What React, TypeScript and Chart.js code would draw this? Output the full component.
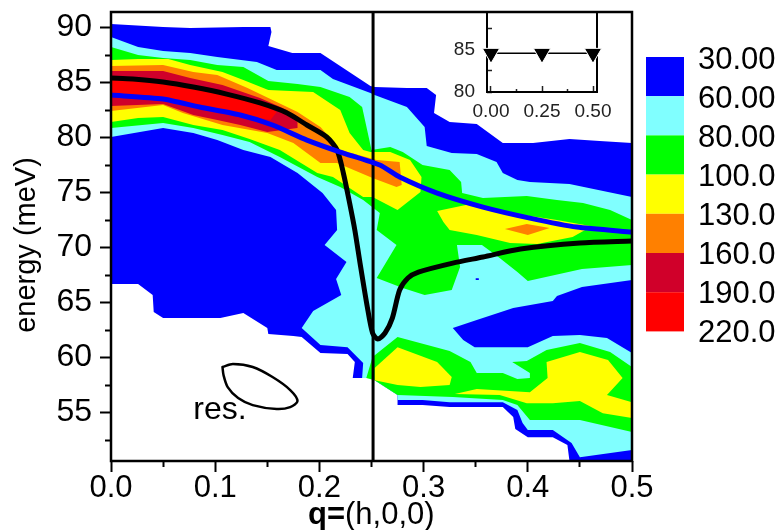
import React, { useEffect, useRef } from "react";
import { Chart, registerables } from "chart.js";

Chart.register(...registerables);

type P = [number, number];

const FONT = '"Liberation Sans", Arial, sans-serif';

const xMajor = [0, 0.1, 0.2, 0.3, 0.4, 0.5];
const xMinor = [0.05, 0.15, 0.25, 0.35, 0.45];
const yMajor = [55, 60, 65, 70, 75, 80, 85, 90];
const yMinor = [52.5, 57.5, 62.5, 67.5, 72.5, 77.5, 82.5, 87.5];

const blueOuter: P[] = [[0,90.32],[.05,90.05],[.076,89.95],[.127,90.05],[.153,90.05],[.154,89.59],[.151,88.32],[.174,87.68],[.201,87.68],[.249,84.68],[.253,84.59],[.284,84.5],[.303,84.5],[.312,83.86],[.31,82.23],[.325,81.41],[.351,81.23],[.376,79.5],[.405,79.5],[.44,79.86],[.469,79.68],[.5,79.5],[.5,50.6],[.44,50.6],[.438,52.05],[.424,52.77],[.4,52.77],[.388,53.5],[.386,54.59],[.376,55.5],[.325,55.5],[.299,55.68],[.275,55.68],[.275,56.59],[.253,57.95],[.25,58.14],[.232,58.14],[.234,59.59],[.227,60.32],[.201,60.41],[.183,61.86],[.175,61.95],[.151,62.14],[.15,62.68],[.127,64.05],[.105,63.59],[.076,63.59],[.05,63.59],[.041,64.14],[.04,65.68],[.026,66.68],[0,66.68]];
const cyanMain: P[] = [[0,89.14],[.026,88.23],[.05,87.86],[.076,87.68],[.102,87.32],[.14,86.86],[.159,86.14],[.201,86.14],[.213,85.32],[.249,84.05],[.253,83.86],[.284,82.77],[.301,80.95],[.303,79.23],[.327,78.59],[.351,78.5],[.37,77.77],[.376,76.77],[.39,76.14],[.402,75.95],[.44,75.77],[.5,74.59],[.5,51.59],[.45,50.95],[.442,52.23],[.424,53.41],[.4,53.41],[.395,54.05],[.39,55.23],[.376,55.95],[.325,55.95],[.299,56.14],[.275,56.14],[.275,56.59],[.253,57.95],[.25,58.14],[.241,58.14],[.242,59.5],[.227,60.95],[.201,61.14],[.183,62.68],[.194,64.23],[.221,65.68],[.216,67.14],[.226,68.68],[.205,70.23],[.217,71.59],[.216,73.41],[.203,74.95],[.179,76.77],[.153,78.23],[.127,78.86],[.102,79.77],[.079,80.41],[.05,80.86],[0,80.05]];
const blueBlob: P[] = [[.328,62.68],[.351,63.41],[.386,64.5],[.424,65.14],[.428,65.59],[.452,66.41],[.5,67.05],[.5,60.41],[.476,61.77],[.45,62.05],[.424,61.95],[.4,60.95],[.349,60.95],[.338,61.59]];
const blueSpeck: P[] = [[.35,67.2],[.353,67.2],[.353,67.05],[.35,67.05]];
const greenMain: P[] = [[0,88.23],[.026,87.5],[.05,87.23],[.076,87.05],[.102,86.59],[.127,86.41],[.151,85.14],[.179,84.86],[.201,84.59],[.229,83.68],[.241,82.77],[.25,78.86],[.268,79.14],[.28,78.68],[.299,77.5],[.325,77.05],[.336,75.95],[.337,74.95],[.357,74.5],[.399,74.68],[.428,74.32],[.453,74.05],[.479,73.41],[.5,72.5],[.5,68.41],[.452,68.05],[.4,66.95],[.39,67.77],[.373,69.05],[.356,70.23],[.332,70.23],[.335,68.23],[.327,66.14],[.301,65.68],[.28,66.32],[.255,67.23],[.274,70.23],[.255,71.59],[.258,73.14],[.242,74.32],[.22,75.5],[.198,76.41],[.162,78.23],[.133,79.59],[.107,80.23],[.079,80.86],[.05,81.32],[0,80.86]];
const greenLower: P[] = [[.245,58.14],[.251,60.05],[.275,61.86],[.325,60.59],[.345,59.59],[.351,58.59],[.376,58.59],[.39,58.05],[.402,58.14],[.402,58.59],[.385,59.59],[.399,59.68],[.418,60.68],[.45,61.32],[.479,60.5],[.5,59.14],[.5,53.23],[.45,54.32],[.402,54.32],[.39,55.68],[.376,56.14],[.328,56.41],[.275,56.59],[.253,57.95]];
const yellowMain: P[] = [[0,87.05],[.026,87.14],[.055,87.14],[.076,86.59],[.107,85.95],[.127,85.23],[.151,84.32],[.194,84.14],[.22,82.5],[.229,80.41],[.242,78.86],[.249,78.68],[.268,78.68],[.287,77.95],[.298,76.41],[.297,75.05],[.275,73.41],[.251,74.59],[.242,74.59],[.213,76.41],[.198,76.77],[.162,78.86],[.133,79.86],[.107,80.68],[.079,81.14],[.05,81.86],[.026,81.77],[0,81.41]];
const yellowUpper: P[] = [[.313,73.32],[.345,73.95],[.383,73.14],[.428,72.5],[.46,71.95],[.455,71.59],[.443,70.95],[.409,70.32],[.383,70.41],[.351,71.14],[.325,71.59],[.319,72.32]];
const yellowLowerLeft: P[] = [[.253,59.05],[.275,60.95],[.313,59.59],[.327,58.23],[.325,57.5],[.297,57.32],[.275,57.5],[.253,57.95]];
const yellowLowerRight: P[] = [[.33,56.68],[.351,57.14],[.402,56.86],[.419,58.14],[.418,59.59],[.45,60.5],[.477,59.77],[.491,58.14],[.476,56.59],[.5,55.95],[.5,54.5],[.472,54.95],[.45,56.05],[.424,55.86],[.399,55.86],[.373,56.59]];
const orangeMain: P[] = [[0,86.5],[.05,86.59],[.079,85.95],[.102,85.68],[.131,84.5],[.151,83.59],[.179,82.32],[.201,80.95],[.22,78.86],[.255,77.95],[.277,77.77],[.279,75.68],[.274,75.5],[.251,76.32],[.217,77.68],[.201,77.68],[.175,79.5],[.15,80.41],[.107,81.14],[.069,82.23],[.05,82.95],[0,82.41]];
const orangeSmall: P[] = [[.378,71.68],[.399,72.14],[.421,71.77],[.4,71.14]];
const crimsonMain: P[] = [[0,86.05],[.05,86.05],[.076,85.41],[.107,84.77],[.143,83.59],[.169,82.5],[.179,81.41],[.179,80.86],[.15,80.5],[.124,81.14],[.102,81.59],[.079,82.05],[.05,83.05],[.025,82.95],[0,82.86]];
const redMain: P[] = [[0,85.23],[.05,85.14],[.085,84.32],[.117,83.68],[.15,82.77],[.159,82.32],[.153,81.59],[.127,82.05],[.102,82.5],[.076,82.95],[.054,83.23],[.025,83.68],[0,83.59]];

const blackCurve: P[] = [[0,85.41],[.021,85.32],[.05,85.05],[.079,84.59],[.111,83.95],[.143,83.14],[.169,82.23],[.188,81.14],[.207,80.05],[.217,78.86],[.223,76.77],[.229,74.05],[.234,71.59],[.239,68.59],[.246,64.59],[.251,62.23],[.256,61.68],[.263,62.23],[.27,63.59],[.277,66.14],[.285,67.23],[.295,67.77],[.328,68.59],[.357,69.14],[.393,69.86],[.45,70.41],[.5,70.59]];
const blueCurve: P[] = [[0,83.86],[.05,83.5],[.085,82.77],[.124,82.05],[.155,81.14],[.188,79.77],[.22,78.68],[.258,77.5],[.277,76.41],[.313,74.95],[.357,73.68],[.402,72.68],[.447,71.86],[.5,71.41]];
const resolution: P[] = [[.107,59.14],[.117,59.41],[.136,59.14],[.155,58.23],[.172,57.05],[.179,56.05],[.172,55.5],[.159,55.32],[.136,55.68],[.122,56.32],[.112,57.32],[.108,58.41],[.107,59.14]];
const verticalLine: P[] = [[.2515,50.6],[.2515,91.41]];

const BLUE = "#0000ff";
const CYAN = "#80ffff";
const GREEN = "#00ff00";
const YELLOW = "#ffff00";
const ORANGE = "#ff8000";
const CRIMSON = "#d0002a";
const RED = "#ff0000";

const legendColors = [BLUE, CYAN, GREEN, YELLOW, ORANGE, CRIMSON, RED];
const legendLabels = ["30.00", "60.00", "80.00", "100.0", "130.0", "160.0", "190.0", "220.0"];

const insetQ = [0, 0.25, 0.5];
const insetEnergy = [84.6, 84.6, 84.6];
const insetXMajor = [0, 0.25, 0.5];
const insetXMinor = [0.125, 0.375];
const insetYMajor = [80, 85];
const insetYMinor = [82.5, 87.5];

const pts = (a: P[]) => a.map(([x, y]) => ({ x, y }));

const poly = (a: P[], color: string) => ({
  data: pts(a),
  showLine: true,
  fill: "shape",
  backgroundColor: color,
  borderColor: color,
  borderWidth: 0,
  pointRadius: 0,
  tension: 0,
});

const curve = (a: P[], color: string, width: number, tension: number) => ({
  data: pts(a),
  showLine: true,
  fill: false,
  borderColor: color,
  borderWidth: width,
  pointRadius: 0,
  tension,
  borderCapStyle: "round",
  borderJoinStyle: "round",
});

const zeroPad = (s: any) => {
  s.paddingLeft = 0;
  s.paddingRight = 0;
  s.paddingTop = 0;
  s.paddingBottom = 0;
};

const axis = (opts: {
  pos: string; min: number; max: number; ticks: number[]; len: number; size: number;
  labels: boolean; font: number; pad: number; fmt: (v: number) => string; weight: number; lw: number; color: string;
}) => ({
  type: "linear",
  position: opts.pos,
  min: opts.min,
  max: opts.max,
  weight: opts.weight,
  afterBuildTicks: (s: any) => {
    s.ticks = opts.ticks.map((value) => ({ value }));
  },
  afterFit: (s: any) => {
    if (opts.pos === "left") s.width = opts.size;
    else s.height = opts.size;
    zeroPad(s);
  },
  grid: { drawOnChartArea: false, drawTicks: true, tickLength: opts.len, tickWidth: opts.lw, tickColor: opts.color },
  border: { display: false },
  ticks: {
    display: opts.labels,
    autoSkip: false,
    maxRotation: 0,
    minRotation: 0,
    padding: opts.pad,
    color: opts.color,
    font: { family: FONT, size: opts.font },
    callback: (v: any) => opts.fmt(Number(v)),
  },
});

const mainPlugin = {
  id: "mainDecor",
  afterDraw(chart: any) {
    const { ctx, chartArea: a, scales } = chart;
    ctx.save();
    ctx.strokeStyle = "#000";
    ctx.lineWidth = 2.5;
    ctx.strokeRect(a.left, a.top, a.right - a.left, a.bottom - a.top);

    ctx.fillStyle = "#000";
    ctx.textBaseline = "alphabetic";
    ctx.font = `32px ${FONT}`;
    ctx.fillText("res.", scales.x.getPixelForValue(0.079), scales.y.getPixelForValue(54.4));

    // colour scale
    const left = 646, w = 38, top = 57, h = 39.2;
    legendColors.forEach((c, i) => {
      ctx.fillStyle = c;
      ctx.fillRect(left, top + i * h, w, h);
    });
    ctx.fillStyle = "#000";
    ctx.textBaseline = "middle";
    ctx.textAlign = "left";
    ctx.font = `31px ${FONT}`;
    legendLabels.forEach((t, i) => {
      ctx.fillText(t, 698, 60 + i * 39);
    });

    // axis titles
    ctx.textBaseline = "alphabetic";
    ctx.font = `bold 31px ${FONT}`;
    ctx.fillText("q", 308, 524);
    const qw = ctx.measureText("q").width;
    ctx.fillText("=", 308 + qw, 524);
    const ew = ctx.measureText("=").width;
    ctx.font = `31px ${FONT}`;
    ctx.fillText("(h,0,0)", 308 + qw + ew, 524);

    ctx.save();
    ctx.translate(35, 245);
    ctx.rotate(-Math.PI / 2);
    ctx.textAlign = "center";
    ctx.font = `29px ${FONT}`;
    ctx.fillText("energy (meV)", 0, 0);
    ctx.restore();
    ctx.restore();
  },
};

const insetPlugin = {
  id: "insetFrame",
  beforeDatasetsDraw(chart: any) {
    const { ctx, chartArea: a } = chart;
    ctx.save();
    ctx.strokeStyle = "#000";
    ctx.lineWidth = 2;
    ctx.strokeRect(a.left, a.top, a.right - a.left, a.bottom - a.top);
    ctx.restore();
  },
};

export default function App() {
  const mainRef = useRef<HTMLCanvasElement>(null);
  const insetRef = useRef<HTMLCanvasElement>(null);

  useEffect(() => {
    const layers = [
      poly(blueOuter, BLUE),
      poly(cyanMain, CYAN),
      poly(blueBlob, BLUE),
      poly(blueSpeck, BLUE),
      poly(greenMain, GREEN),
      poly(greenLower, GREEN),
      poly(yellowMain, YELLOW),
      poly(yellowUpper, YELLOW),
      poly(yellowLowerLeft, YELLOW),
      poly(yellowLowerRight, YELLOW),
      poly(orangeMain, ORANGE),
      poly(orangeSmall, ORANGE),
      poly(crimsonMain, CRIMSON),
      poly(redMain, RED),
      curve(verticalLine, "#000", 3, 0),
      curve(blackCurve, "#000", 5, 0.25),
      curve(blueCurve, BLUE, 5, 0.2),
      curve(resolution, "#000", 2.5, 0.3),
    ];
    // Chart.js paints the first dataset last
    const datasets = layers.slice().reverse();

    const main = new Chart(mainRef.current as HTMLCanvasElement, {
      type: "scatter",
      data: { datasets: datasets as any },
      plugins: [mainPlugin],
      options: {
        animation: false,
        responsive: false,
        layout: { padding: { left: 0, top: 12, right: 148, bottom: 0 } },
        plugins: { legend: { display: false }, tooltip: { enabled: false } },
        scales: {
          x: axis({ pos: "bottom", min: 0, max: 0.5, ticks: xMajor, len: 11, size: 69, labels: true, font: 31, pad: -2, fmt: (v) => v.toFixed(1), weight: 0, lw: 2, color: "#000" }),
          x2: axis({ pos: "bottom", min: 0, max: 0.5, ticks: xMinor, len: 6, size: 0, labels: false, font: 12, pad: 0, fmt: () => "", weight: -1, lw: 2, color: "#000" }),
          y: axis({ pos: "left", min: 50.6, max: 91.41, ticks: yMajor, len: 11, size: 111, labels: true, font: 32, pad: 8, fmt: (v) => String(v), weight: 0, lw: 2, color: "#000" }),
          y2: axis({ pos: "left", min: 50.6, max: 91.41, ticks: yMinor, len: 6, size: 0, labels: false, font: 12, pad: 0, fmt: () => "", weight: -1, lw: 2, color: "#000" }),
        } as any,
      },
    });

    const inset = new Chart(insetRef.current as HTMLCanvasElement, {
      type: "scatter",
      data: {
        datasets: [
          {
            data: insetQ.map((x, i) => ({ x, y: insetEnergy[i] })),
            showLine: true,
            borderColor: "#000",
            borderWidth: 1.5,
            pointStyle: "triangle",
            rotation: 180,
            pointRadius: 10,
            pointBackgroundColor: "#000",
            pointBorderColor: "#fff",
            pointBorderWidth: 1,
            clip: false,
          } as any,
        ],
      },
      plugins: [insetPlugin],
      options: {
        animation: false,
        responsive: false,
        layout: { padding: { left: 0, top: 12, right: 183, bottom: 0 } },
        plugins: { legend: { display: false }, tooltip: { enabled: false } },
        scales: {
          x: axis({ pos: "bottom", min: -0.0196, max: 0.5196, ticks: insetXMajor, len: -6, size: 438, labels: true, font: 19, pad: 14, fmt: (v) => v.toFixed(2), weight: 0, lw: 1.5, color: "#222" }),
          x2: axis({ pos: "bottom", min: -0.0196, max: 0.5196, ticks: insetXMinor, len: -3, size: 0, labels: false, font: 12, pad: 0, fmt: () => "", weight: -1, lw: 1.5, color: "#222" }),
          y: axis({ pos: "left", min: 80, max: 89.52, ticks: insetYMajor, len: -5, size: 487, labels: true, font: 19, pad: 17, fmt: (v) => String(v), weight: 0, lw: 1.5, color: "#222" }),
          y2: axis({ pos: "left", min: 80, max: 89.52, ticks: insetYMinor, len: -5, size: 0, labels: false, font: 12, pad: 0, fmt: () => "", weight: -1, lw: 1.5, color: "#222" }),
        } as any,
      },
    });

    return () => {
      main.destroy();
      inset.destroy();
    };
  }, []);

  return (
    <div style={{ position: "fixed", left: 0, top: 0, width: 780, height: 530, background: "#fff" }}>
      <canvas ref={mainRef} width={780} height={530} style={{ position: "absolute", left: 0, top: 0, width: 780, height: 530 }} />
      <canvas ref={insetRef} width={780} height={530} style={{ position: "absolute", left: 0, top: 0, width: 780, height: 530 }} />
    </div>
  );
}
